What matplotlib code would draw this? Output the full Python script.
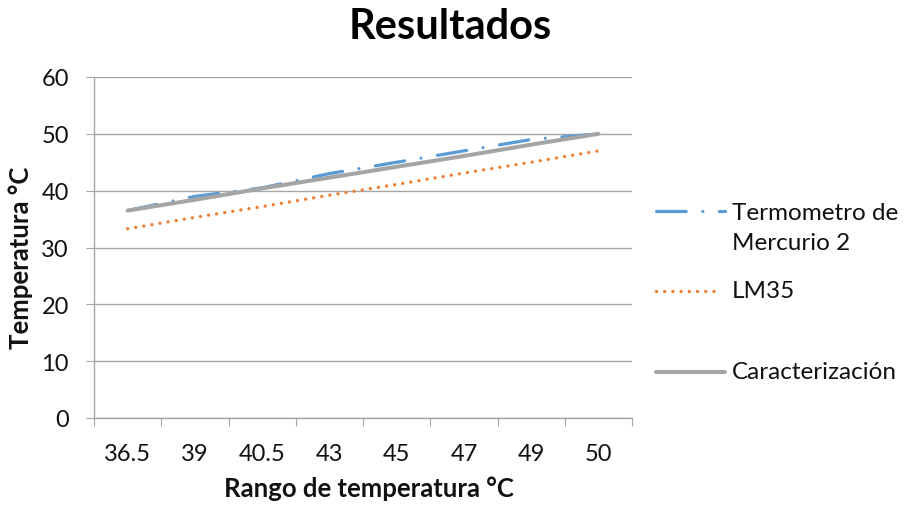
import matplotlib
matplotlib.use("Agg")
import matplotlib.pyplot as plt
from matplotlib.lines import Line2D

plt.rcParams['font.family'] = ['Lato', 'DejaVu Sans']

categories = ["36.5", "39", "40.5", "43", "45", "47", "49", "50"]
termometro = [36.5, 39, 40.5, 43, 45, 47, 49, 50]
lm35 = [33.3, 35.3, 37.2, 39.2, 41.1, 43.1, 45.0, 47.0]
caracterizacion = [36.5, 38.4, 40.4, 42.3, 44.2, 46.1, 48.1, 50.0]
series_names = ["Termometro de\nMercurio 2", "LM35", "Caracterización"]
yticks = [0, 10, 20, 30, 40, 50, 60]

blue = "#5B9BD5"
orange = "#ED7D31"
gray = "#A5A5A5"
grid_c = "#A6A6A6"
txt = "#111111"
fs = 17

W, H = 905, 506
def fx(px):
    return px / W
def fy(py):
    return 1 - py / H

fig = plt.figure(figsize=(9.05, 5.06), dpi=100)
ax = fig.add_axes([94/W, 1-419/H, (632-94)/W, (419-78)/H])

x = list(range(len(categories)))
l1, = ax.plot(x, termometro, color=blue, lw=2.3, dash_capstyle='round', solid_capstyle='round')
l1.set_dashes([9.3, 5.2, 0.01, 5.2])
l2, = ax.plot(x, lm35, color=orange, lw=2.4, dash_capstyle='round')
l2.set_dashes([0.01, 2.45])
l3, = ax.plot(x, caracterizacion, color=gray, lw=2.9, solid_capstyle='round')

ax.set_xlim(-0.5, len(categories) - 0.5)
ax.set_ylim(0, 60)
ax.set_yticks(yticks)
ax.set_yticklabels([str(v) for v in yticks])
ax.yaxis.grid(True, color=grid_c, lw=1)
ax.set_axisbelow(True)

ax.set_xticks([i - 0.5 for i in range(len(categories) + 1)])
ax.set_xticklabels([])
ax.set_xticks(x, minor=True)
ax.set_xticklabels(categories, minor=True)
ax.tick_params(axis='x', which='major', length=6, color=grid_c, direction='out')
ax.tick_params(axis='x', which='minor', length=0, pad=18, labelsize=fs, labelcolor=txt)
ax.tick_params(axis='y', length=6, color=grid_c, pad=12, labelsize=fs, labelcolor=txt)

for s in ['top', 'right']:
    ax.spines[s].set_visible(False)
for s in ['left', 'bottom']:
    ax.spines[s].set_color(grid_c)
    ax.spines[s].set_linewidth(1)

fig.text(fx(21), fy(258), "Temperatura °C", rotation=90, ha='center', va='center',
         fontsize=18.5, fontweight='bold', color=txt)
fig.text(fx(369), fy(497), "Rango de temperatura °C", ha='center', va='baseline',
         fontsize=18.5, fontweight='bold', color=txt)

fig.text(fx(450), fy(39), "Resultados", ha='center', va='baseline', fontsize=30, fontweight='bold')

# legend (manual)
h1 = Line2D([fx(656), fx(725)], [fy(212), fy(212)], transform=fig.transFigure,
            color=blue, lw=2.3, dash_capstyle='round')
h1.set_dashes([9.3, 5.2, 0.01, 5.2])
fig.add_artist(h1)
fig.text(fx(732), fy(213), "Termometro de", fontsize=17.5, va='center', ha='left', color=txt)
fig.text(fx(732), fy(243), "Mercurio 2", fontsize=17.5, va='center', ha='left', color=txt)

h2 = Line2D([fx(656), fx(718)], [fy(292), fy(292)], transform=fig.transFigure,
            color=orange, lw=2.4, dash_capstyle='round')
h2.set_dashes([0.01, 2.45])
fig.add_artist(h2)
fig.text(fx(732), fy(292), series_names[1], fontsize=17.5, va='center', ha='left', color=txt)

h3 = Line2D([fx(656), fx(725)], [fy(373), fy(373)], transform=fig.transFigure,
            color=gray, lw=2.9, solid_capstyle='round')
fig.add_artist(h3)
fig.text(fx(732), fy(373), series_names[2], fontsize=17.5, va='center', ha='left', color=txt)

fig.savefig("out.png", dpi=100)
